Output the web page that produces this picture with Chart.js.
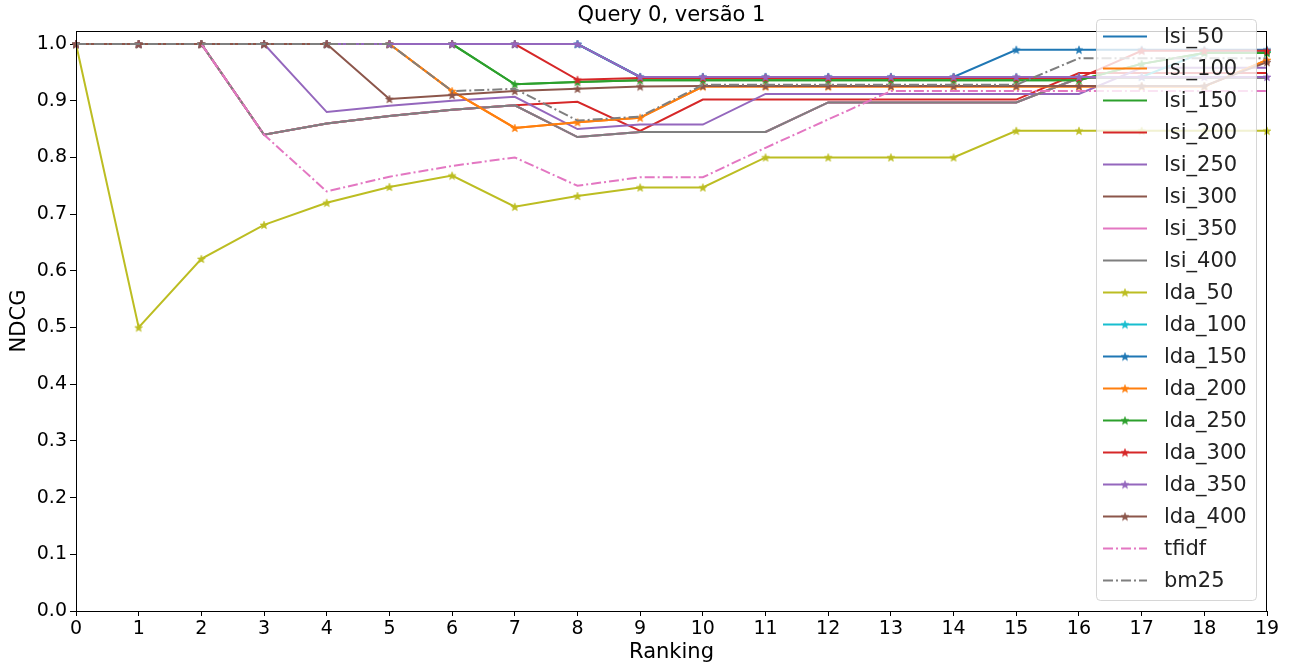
<!DOCTYPE html>
<html lang="pt">
<head>
  <meta charset="UTF-8" />
  <title>Query 0, versão 1</title>
  <script src="https://cdn.jsdelivr.net/npm/chart.js"></script>
  <style>
    body { margin: 0; background: #fff; }
    canvas { display: block; }
  </style>
</head>
<body>
  <canvas id="ndcgChart" width="1295" height="667"></canvas>

  <script>
    // ranking positions (x axis)
    const ranking = ['0','1','2','3','4','5','6','7','8','9','10','11','12','13','14','15','16','17','18','19'];

    // NDCG values
    const lsi50  = [1,1,1,1,1,1,1,1,1,0.942,0.942,0.942,0.942,0.942,0.942,0.942,0.942,0.942,0.942,0.942];
    const lsi100 = [1,1,1,1,1,1,0.917,0.852,0.862,0.870,0.925,0.925,0.925,0.925,0.925,0.925,0.925,0.925,0.925,0.972];
    const lsi150 = [1,1,1,1,1,1,1,0.929,0.933,0.936,0.936,0.936,0.936,0.936,0.936,0.936,0.936,0.965,0.984,0.984];
    const lsi200 = [1,1,1,0.84,0.86,0.873,0.884,0.892,0.898,0.847,0.902,0.902,0.902,0.902,0.902,0.902,0.949,0.949,0.949,0.949];
    const lsi250 = [1,1,1,1,0.88,0.891,0.90,0.907,0.85,0.858,0.858,0.912,0.912,0.912,0.912,0.912,0.912,0.958,0.958,0.958];
    const lsi300 = [1,1,1,0.84,0.86,0.873,0.884,0.892,0.836,0.845,0.845,0.845,0.897,0.897,0.897,0.897,0.94,0.94,0.94,0.94];
    const lsi350 = [1,1,1,0.84,0.86,0.873,0.884,0.892,0.836,0.845,0.845,0.845,0.897,0.897,0.897,0.897,0.94,0.94,0.94,0.94];
    const lsi400 = [1,1,1,0.84,0.86,0.873,0.884,0.892,0.836,0.845,0.845,0.845,0.897,0.897,0.897,0.897,0.94,0.94,0.94,0.94];
    const lda50  = [1.0,0.5,0.621,0.681,0.72,0.748,0.768,0.713,0.732,0.747,0.747,0.8,0.8,0.8,0.8,0.847,0.847,0.847,0.847,0.847];
    const lda100 = [1,1,1,1,1,1,1,1,1,0.942,0.942,0.942,0.942,0.942,0.942,0.942,0.942,0.942,0.986,0.986];
    const lda150 = [1,1,1,1,1,1,1,1,1,0.942,0.942,0.942,0.942,0.942,0.942,0.99,0.99,0.99,0.99,0.99];
    const lda200 = [1,1,1,1,1,1,0.917,0.852,0.862,0.870,0.925,0.925,0.925,0.925,0.925,0.925,0.925,0.925,0.925,0.972];
    const lda250 = [1,1,1,1,1,1,1,0.929,0.933,0.936,0.936,0.936,0.936,0.936,0.936,0.936,0.936,0.965,0.984,0.984];
    const lda300 = [1,1,1,1,1,1,1,1,0.937,0.94,0.94,0.94,0.94,0.94,0.94,0.94,0.94,0.988,0.988,0.988];
    const lda350 = [1,1,1,1,1,1,1,1,1,0.942,0.942,0.942,0.942,0.942,0.942,0.942,0.942,0.942,0.942,0.942];
    const lda400 = [1,1,1,1,1,0.903,0.91,0.917,0.921,0.925,0.926,0.926,0.926,0.926,0.926,0.926,0.926,0.926,0.926,0.968];
    const tfidf  = [1,1,1,0.84,0.74,0.766,0.785,0.80,0.75,0.765,0.765,0.817,0.867,0.917,0.917,0.917,0.917,0.917,0.917,0.917];
    const bm25   = [1,1,1,1,1,1,0.917,0.921,0.865,0.872,0.928,0.928,0.928,0.928,0.928,0.928,0.975,0.975,0.975,0.975];

    const FONT = "'DejaVu Sans', sans-serif";

    // filled 5 point star like matplotlib's '*'
    function starMarker(color) {
      const c = document.createElement('canvas');
      c.width = 10; c.height = 10;
      const g = c.getContext('2d');
      g.fillStyle = color;
      g.strokeStyle = color;
      g.lineWidth = 0.6;
      g.beginPath();
      for (let i = 0; i < 10; i++) {
        const r = i % 2 === 0 ? 4.2 : 1.8;
        const a = -Math.PI / 2 + i * Math.PI / 5;
        const px = 5 + r * Math.cos(a), py = 5.4 + r * Math.sin(a);
        if (i === 0) g.moveTo(px, py); else g.lineTo(px, py);
      }
      g.closePath();
      g.fill();
      g.stroke();
      return c;
    }

    const dashDot = [10, 3, 2, 3];
    const series = [
      { label: 'lsi_50',  data: lsi50,  color: '#1f77b4' },
      { label: 'lsi_100', data: lsi100, color: '#ff7f0e' },
      { label: 'lsi_150', data: lsi150, color: '#2ca02c' },
      { label: 'lsi_200', data: lsi200, color: '#d62728' },
      { label: 'lsi_250', data: lsi250, color: '#9467bd' },
      { label: 'lsi_300', data: lsi300, color: '#8c564b' },
      { label: 'lsi_350', data: lsi350, color: '#e377c2' },
      { label: 'lsi_400', data: lsi400, color: '#7f7f7f' },
      { label: 'lda_50',  data: lda50,  color: '#bcbd22', star: true },
      { label: 'lda_100', data: lda100, color: '#17becf', star: true },
      { label: 'lda_150', data: lda150, color: '#1f77b4', star: true },
      { label: 'lda_200', data: lda200, color: '#ff7f0e', star: true },
      { label: 'lda_250', data: lda250, color: '#2ca02c', star: true },
      { label: 'lda_300', data: lda300, color: '#d62728', star: true },
      { label: 'lda_350', data: lda350, color: '#9467bd', star: true },
      { label: 'lda_400', data: lda400, color: '#8c564b', star: true },
      { label: 'tfidf',   data: tfidf,  color: '#e377c2', dash: dashDot },
      { label: 'bm25',    data: bm25,   color: '#7f7f7f', dash: dashDot }
    ];

    const datasets = series.map((s, i) => ({
      label: s.label,
      data: s.data,
      borderColor: s.color,
      backgroundColor: s.color,
      borderWidth: 2,
      borderDash: s.dash || [],
      tension: 0,
      fill: false,
      pointStyle: s.star ? starMarker(s.color) : 'circle',
      pointRadius: s.star ? 4 : 0,
      pointHoverRadius: s.star ? 4 : 0,
      order: series.length - i   // later series on top, like matplotlib
    }));

    // frame, title and the in-plot legend
    const decorations = {
      id: 'decorations',
      afterDatasetsDraw(chart) {
        const { ctx, chartArea: a } = chart;
        ctx.save();
        ctx.strokeStyle = '#000';
        ctx.lineWidth = 1;
        ctx.strokeRect(Math.round(a.left) + 0.5, Math.round(a.top) + 0.5,
          Math.round(a.right - a.left) - 1, Math.round(a.bottom - a.top));
        ctx.restore();
      },
      afterDraw(chart) {
        const { ctx, chartArea: a } = chart;
        ctx.save();

        ctx.fillStyle = '#000';
        ctx.font = `21px ${FONT}`;
        ctx.textAlign = 'center';
        ctx.textBaseline = 'middle';
        ctx.fillText('Query 0, versão 1', (a.left + a.right) / 2, 16);

        const x0 = a.right - 171, y0 = a.top - 12, w = 160, h = 581;
        ctx.beginPath();
        ctx.roundRect(x0 + 0.5, y0 + 0.5, w, h, 4);
        ctx.fillStyle = 'rgba(255,255,255,0.8)';
        ctx.fill();
        ctx.strokeStyle = 'rgba(204,204,204,0.8)';
        ctx.lineWidth = 1;
        ctx.stroke();

        ctx.font = `21px ${FONT}`;
        ctx.textAlign = 'left';
        chart.data.datasets.forEach((ds, i) => {
          const y = y0 + 17.5 + i * 32;
          ctx.strokeStyle = ds.borderColor;
          ctx.lineWidth = 2;
          ctx.setLineDash(ds.borderDash);
          ctx.beginPath();
          ctx.moveTo(x0 + 7, y);
          ctx.lineTo(x0 + 51, y);
          ctx.stroke();
          ctx.setLineDash([]);
          if (ds.pointStyle instanceof HTMLCanvasElement) {
            ctx.drawImage(ds.pointStyle, x0 + 29 - 5, y - 5);
          }
          ctx.fillStyle = '#222';
          ctx.fillText(ds.label, x0 + 68, y + 1);
        });
        ctx.restore();
      }
    };

    new Chart(document.getElementById('ndcgChart'), {
      type: 'line',
      data: { labels: ranking, datasets },
      options: {
        responsive: false,
        animation: false,
        layout: { padding: { top: 31, right: 28, left: 0, bottom: 0 } },
        plugins: {
          legend: { display: false },
          title: { display: false },
          tooltip: { enabled: false }
        },
        scales: {
          x: {
            offset: false,
            grid: { display: true, drawOnChartArea: false, drawTicks: true, tickLength: 5, color: '#000' },
            border: { display: true, color: '#000' },
            ticks: { color: '#000', font: { family: FONT, size: 19 }, padding: 2, maxRotation: 0, autoSkip: false },
            title: { display: true, text: 'Ranking', color: '#000', font: { family: FONT, size: 21 }, padding: { top: 0, bottom: 2 } },
            afterFit(scale) { scale.height = 56; }
          },
          y: {
            min: 0,
            max: 1.023,
            grid: { display: true, drawOnChartArea: false, drawTicks: true, tickLength: 6, color: '#000' },
            border: { display: true, color: '#000' },
            ticks: {
              stepSize: 0.1,
              includeBounds: false,
              color: '#000',
              font: { family: FONT, size: 19 },
              padding: 3,
              callback: v => v.toFixed(1)
            },
            title: { display: true, text: 'NDCG', color: '#000', font: { family: FONT, size: 21 }, padding: { top: 7, bottom: 0 } },
            afterFit(scale) { scale.width = 76; }
          }
        }
      },
      plugins: [decorations]
    });
  </script>
</body>
</html>
